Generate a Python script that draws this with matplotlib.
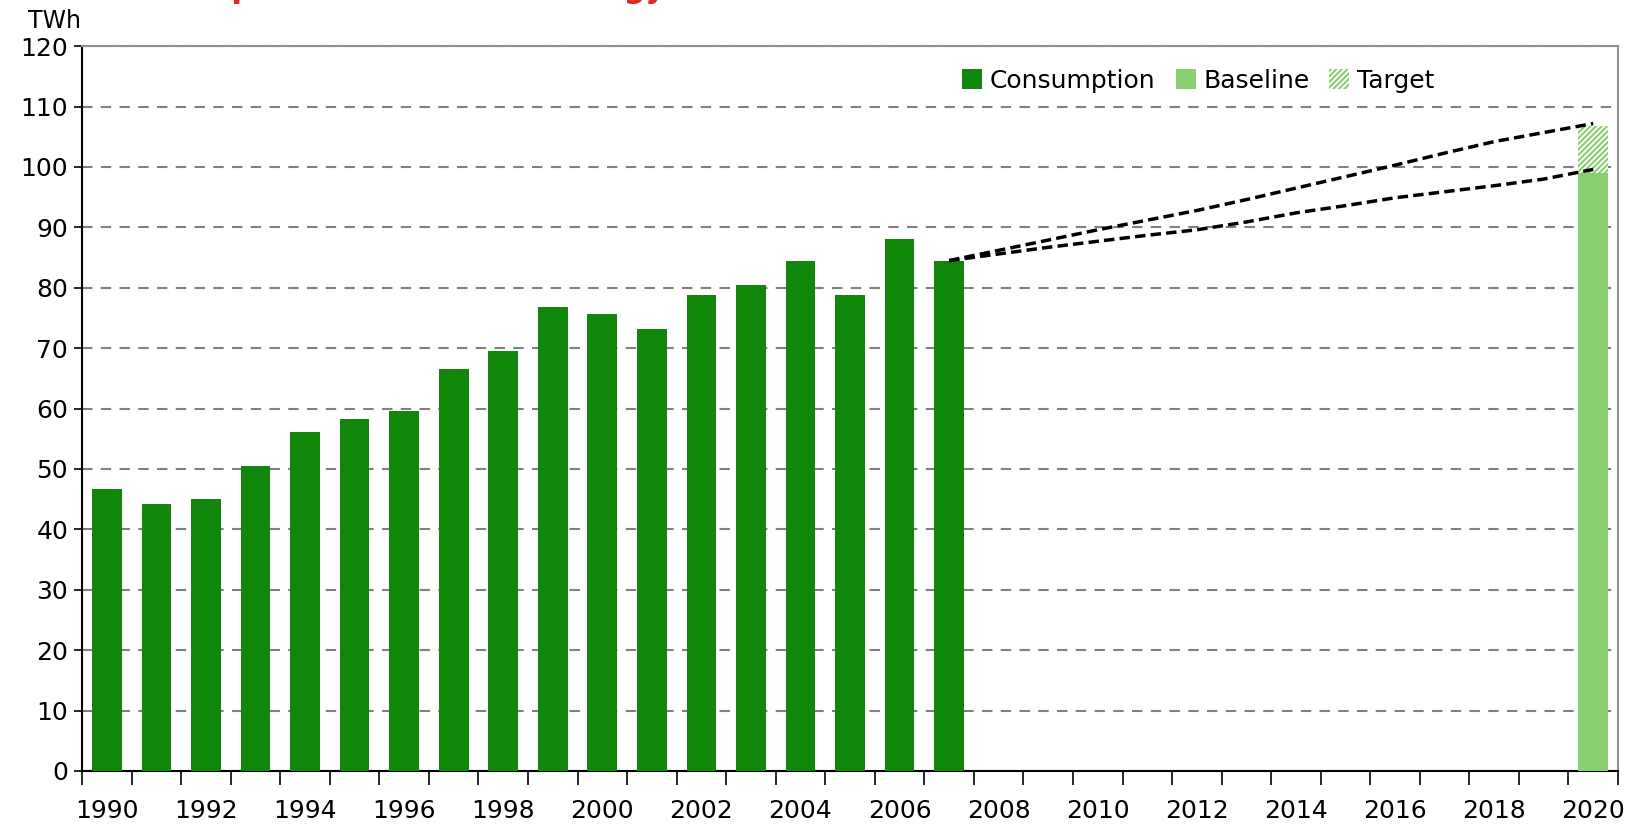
import matplotlib.pyplot as plt
from matplotlib.patches import Patch

# ---------------------------------------------------------------- #
# Data
# ---------------------------------------------------------------- #
years = list(range(1990, 2021))
hist_years = list(range(1990, 2008))
consumption = [46.7, 44.2, 45.1, 50.5, 56.2, 58.2, 59.6, 66.5, 69.6, 76.8,
               75.7, 73.2, 78.8, 80.5, 84.4, 78.8, 88.0, 84.5]

baseline_2020 = 99.0
target_extra_2020 = 7.8

proj_years = list(range(2007, 2021))
proj_upper = [84.5, 86.2, 87.9, 89.6, 91.2, 92.8, 94.6, 96.5, 98.4, 100.3,
              102.3, 104.2, 105.7, 107.2]
proj_lower = [84.5, 85.6, 86.7, 87.7, 88.7, 89.6, 90.9, 92.4, 93.6, 94.9,
              95.9, 96.9, 98.0, 99.6]

dark_green = '#10860a'
light_green = '#8ace72'

# ---------------------------------------------------------------- #
# Figure
# ---------------------------------------------------------------- #
plt.rcParams['hatch.color'] = light_green
plt.rcParams['hatch.linewidth'] = 1.5

fig = plt.figure(figsize=(16.51, 8.25), dpi=100)
ax = fig.add_axes([0.0497, 0.0655, 0.9303, 0.8785])

idx = {y: i for i, y in enumerate(years)}
ax.bar([idx[y] for y in hist_years], consumption, width=0.6,
       color=dark_green, zorder=3)
ax.bar(idx[2020], baseline_2020, width=0.6, color=light_green, zorder=3)
ax.bar(idx[2020], target_extra_2020, bottom=baseline_2020, width=0.6,
       color='white', hatch='//////', edgecolor=light_green, linewidth=0, zorder=3)

px = [idx[y] for y in proj_years]
ax.plot(px, proj_upper, color='black', lw=2.5, ls=(0, (3, 1.5)), zorder=4)
ax.plot(px, proj_lower, color='black', lw=2.5, ls=(0, (3, 1.5)), zorder=4)

# axes
ax.set_xlim(-0.5, len(years) - 0.5)
ax.set_ylim(0, 120)
ax.set_yticks(range(0, 121, 10))
ax.yaxis.grid(True, ls=(0, (5, 4)), color='#808080', lw=1.5, zorder=0)
ax.set_xticks([idx[y] for y in years if y % 2 == 0])
ax.set_xticklabels([str(y) for y in years if y % 2 == 0])
ax.set_xticks([i - 0.5 for i in range(len(years) + 1)], minor=True)
ax.tick_params(axis='x', which='major', length=0, pad=20, labelsize=18)
ax.tick_params(axis='x', which='minor', length=10, width=1.2, color='black')
ax.tick_params(axis='y', length=6, width=1.2, labelsize=18, pad=4)

for s in ['top', 'right']:
    ax.spines[s].set_color('#909090')
    ax.spines[s].set_linewidth(1.5)
for s in ['left', 'bottom']:
    ax.spines[s].set_color('black')
    ax.spines[s].set_linewidth(1.5)

fig.text(0.017, 0.966, 'TWh', fontsize=17, ha='left', va='baseline')

# title cut off at the top of the picture, only descenders show
fig.text(0.403, 1.003, 'Consumption of electrical energy', fontsize=22,
         fontweight='bold', color='#e0281e', ha='right', va='baseline')

handles = [Patch(facecolor=dark_green), Patch(facecolor=light_green),
           Patch(facecolor='white', edgecolor=light_green, hatch='//////', linewidth=0)]
ax.legend(handles, ['Consumption', 'Baseline', 'Target'], ncol=3, frameon=False,
          fontsize=18, loc='upper right', bbox_to_anchor=(0.895, 1.0),
          handlelength=0.8, handleheight=0.8, handletextpad=0.3, columnspacing=0.8)

plt.savefig('out.png', dpi=100)
